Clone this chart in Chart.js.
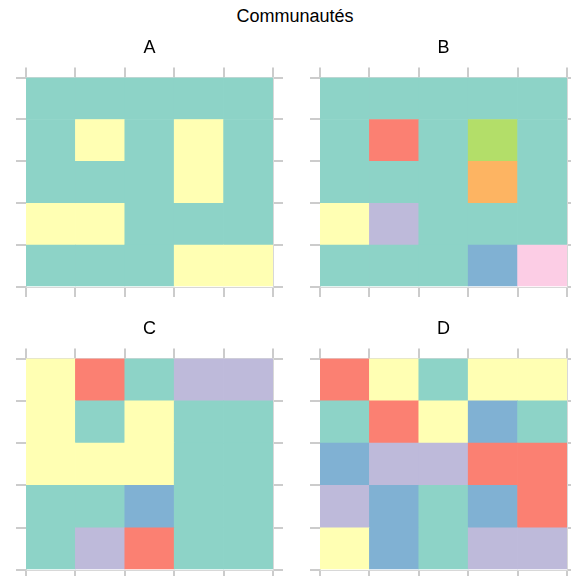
<!DOCTYPE html>
<html>
<head>
<meta charset="utf-8">
<script src="https://cdn.jsdelivr.net/npm/chart.js@4/dist/chart.umd.min.js"></script>
<style>
html,body{margin:0;padding:0;background:#fff;overflow:hidden;width:571px;height:576px;}
#main{position:absolute;left:0;top:6px;width:590px;text-align:center;font-family:"Liberation Sans",Arial,sans-serif;font-size:18px;color:#000;}
.pc{position:absolute;}
</style>
</head>
<body>
<div id="main">Communautés</div>
<div class="pc" id="wA" style="left:0px;top:30px;width:300px;height:270px;"><canvas id="cA"></canvas></div>
<div class="pc" id="wB" style="left:300px;top:30px;width:280px;height:270px;"><canvas id="cB"></canvas></div>
<div class="pc" id="wC" style="left:0px;top:311px;width:300px;height:271px;"><canvas id="cC"></canvas></div>
<div class="pc" id="wD" style="left:300px;top:311px;width:280px;height:271px;"><canvas id="cD"></canvas></div>
<script>
// Community labels per cell, rows listed top to bottom, columns left to right
const columns = ['1', '2', '3', '4', '5'];
const rowsA = [
  ['T','T','T','T','T'],
  ['T','Y','T','Y','T'],
  ['T','T','T','Y','T'],
  ['Y','Y','T','T','T'],
  ['T','T','T','Y','Y']
];
const rowsB = [
  ['T','T','T','T','T'],
  ['T','R','T','G','T'],
  ['T','T','T','O','T'],
  ['Y','L','T','T','T'],
  ['T','T','T','B','P']
];
const rowsC = [
  ['Y','R','T','L','L'],
  ['Y','T','Y','T','T'],
  ['Y','Y','Y','T','T'],
  ['T','T','B','T','T'],
  ['T','L','R','T','T']
];
const rowsD = [
  ['R','Y','T','Y','Y'],
  ['T','R','Y','B','T'],
  ['B','L','L','R','R'],
  ['L','B','T','B','R'],
  ['Y','B','T','L','L']
];
const panelTitles = ['A', 'B', 'C', 'D'];
const palette = {T:'#8DD3C7', Y:'#FFFFB3', L:'#BEBADA', R:'#FB8072', B:'#80B1D3', O:'#FDB462', G:'#B3DE69', P:'#FCCDE5'};

const tickColor = '#cccccc';
function gridOpts(off){
  return {offset:off, drawOnChartArea:false, drawTicks:true, tickLength:10, color:tickColor, lineWidth:2};
}
function makeChart(id, rows, title, pad){
  const nRows = rows.length;
  const datasets = [];
  // bottom row first so it stacks from the bottom
  for (let r = nRows - 1; r >= 0; r--) {
    datasets.push({
      label: 'row' + (r + 1),
      data: columns.map(() => 1),
      backgroundColor: rows[r].map(k => palette[k]),
      borderWidth: 0,
      barPercentage: 1.0,
      categoryPercentage: 1.0,
      xAxisID: 'x', yAxisID: 'y'
    });
  }
  new Chart(document.getElementById(id), {
    type: 'bar',
    data: {labels: columns, datasets: datasets},
    options: {
      responsive: true, maintainAspectRatio: false, animation: false,
      layout: {padding: pad},
      plugins: {
        legend: {display:false}, tooltip: {enabled:false},
        title: {display:true, text:title, color:'#000',
          font:{family:'"Liberation Sans", Arial, sans-serif', size:18, weight:'normal'},
          padding:{top:7, bottom:9}}
      },
      scales: {
        x: {type:'category', position:'bottom', stacked:true, offset:true,
            grid: gridOpts(true), ticks:{display:false}, border:{display:true, color:'#d8d8d8', width:1}},
        x2: {type:'category', position:'top', offset:true,
            grid: gridOpts(true), ticks:{display:false}, border:{display:true, color:'#d8d8d8', width:1}},
        y: {type:'linear', position:'left', stacked:true, min:0, max:nRows,
            grid: gridOpts(false), ticks:{display:false, stepSize:1}, border:{display:true, color:'#d8d8d8', width:1}},
        y2: {type:'linear', position:'right', min:0, max:nRows,
            grid: gridOpts(false), ticks:{display:false, stepSize:1}, border:{display:true, color:'#d8d8d8', width:1}}
      }
    }
  });
}
makeChart('cA', rowsA, panelTitles[0], {left:16, right:17, top:0, bottom:3});
makeChart('cB', rowsB, panelTitles[1], {left:10, right:3, top:0, bottom:3});
makeChart('cC', rowsC, panelTitles[2], {left:16, right:17, top:0, bottom:2});
makeChart('cD', rowsD, panelTitles[3], {left:10, right:3, top:0, bottom:2});
</script>
</body>
</html>
